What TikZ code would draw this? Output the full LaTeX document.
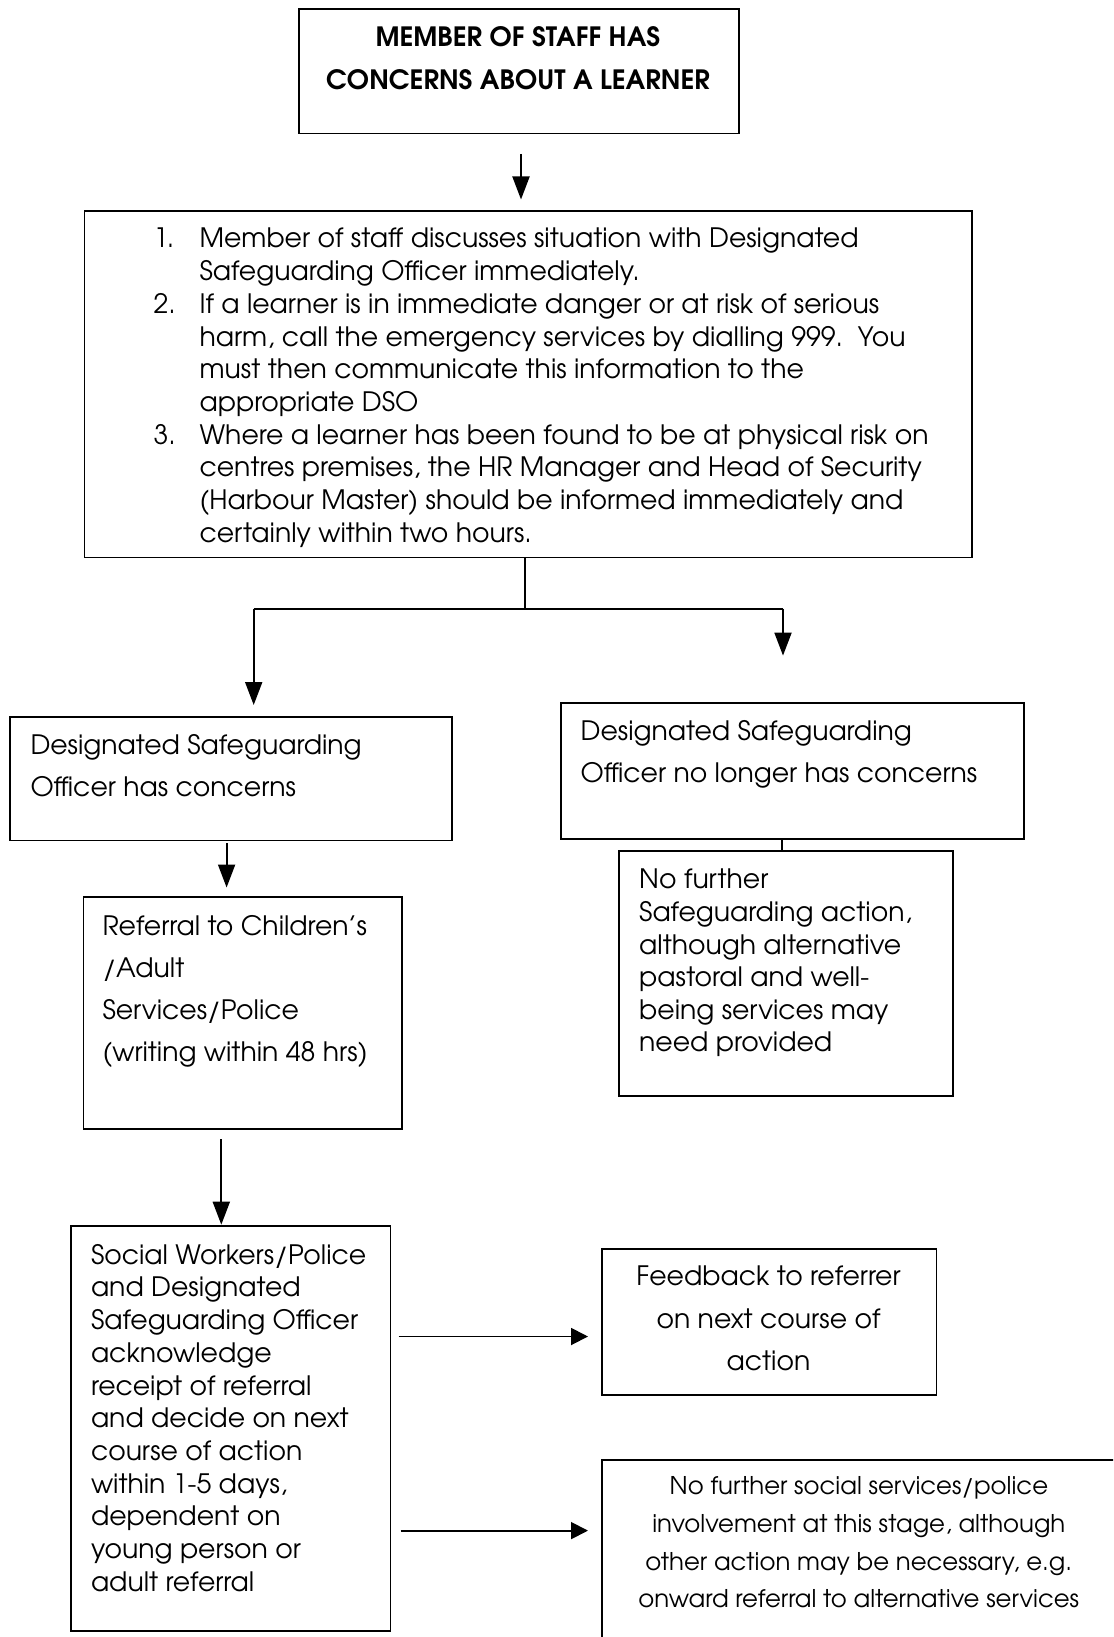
\documentclass[tikz,border=0pt]{standalone}
\usepackage{fontspec}
\setmainfont{texgyreadventor}[Extension=.otf, UprightFont=*-regular, BoldFont=*-bold]
\usetikzlibrary{arrows.meta}
\tikzset{
  box/.style={draw, line width=1.9pt, inner sep=0pt, anchor=north west},
  txt/.style={inner sep=0pt, anchor=north west, align=left},
  arrv/.style={line width=1.9pt, -{Triangle[length=23pt,width=17pt]}},
  arrh/.style={line width=1.9pt, -{Triangle[length=17pt,width=17pt]}},
  ln/.style={line width=1.9pt},
}
\newcommand{\numsp}{\hspace*{45.9pt}}
\newcommand{\numb}[1]{\makebox[45.9pt][l]{#1}}
\begin{document}
\begin{tikzpicture}[x=1pt,y=-1pt]
\useasboundingbox (0,0) rectangle (1113,1637);
\clip (0,0) rectangle (1113,1637);
\fill[white] (0,0) rectangle (1113,1637);

% boxes
\node[box, minimum width=440.6pt, minimum height=124.2pt] (top) at (297.6,8.4) {};
\node[box, minimum width=887.5pt, minimum height=346.5pt] (list) at (83.5,210) {};
\node[box, minimum width=441.6pt, minimum height=123.5pt] (dsoA) at (9.4,716) {};
\node[box, minimum width=463.4pt, minimum height=136.8pt] (dsoB) at (559.6,701.6) {};
\node[box, minimum width=334pt, minimum height=245.3pt] (nf) at (618,850) {};
\node[box, minimum width=318.5pt, minimum height=231.6pt] (ref) at (82.5,896) {};
\node[box, minimum width=319.5pt, minimum height=405.3pt] (soc) at (70,1224.7) {};
\node[box, minimum width=334.1pt, minimum height=146.3pt] (fb) at (601.4,1247.7) {};
\node[box, minimum width=560pt, minimum height=250pt] (nfs) at (601.4,1458.6) {};

% texts
\node[inner sep=0pt, align=center, font=\bfseries\fontsize{26.6}{42.8}\selectfont] (topT) at (518,58.5)
  {MEMBER OF STAFF HAS\\CONCERNS ABOUT A LEARNER};
\node[txt, font=\fontsize{26.7}{32.7}\selectfont] (listT) at (153.5,228)
  {\numb{1.}Member of staff discusses situation with Designated\\
   \numsp Safeguarding Officer immediately.\\
   \numb{2.}If a learner is in immediate danger or at risk of serious\\
   \numsp harm, call the emergency services by dialling 999.\ \ You\\
   \numsp must then communicate this information to the\\
   \numsp appropriate DSO\\
   \numb{3.}Where a learner has been found to be at physical risk on\\
   \numsp centres premises, the HR Manager and Head of Security\\
   \numsp (Harbour Master) should be informed immediately and\\
   \numsp certainly within two hours.};
\node[txt, font=\fontsize{26.7}{41.8}\selectfont] (dsoAT) at (30.3,734.4)
  {Designated Safeguarding\\Officer has concerns};
\node[txt, font=\fontsize{26.7}{42.8}\selectfont] (dsoBT) at (580.5,719.8)
  {Designated Safeguarding\\Officer no longer has concerns};
\node[txt, font=\fontsize{26.7}{32.6}\selectfont] (nfT) at (639,869)
  {No further\\Safeguarding action,\\although alternative\\pastoral and well-\\being services may\\need provided};
\node[txt, font=\fontsize{26.7}{42}\selectfont] (refT) at (102.3,915)
  {Referral to Children’s\\/Adult\\Services/Police\\(writing within 48 hrs)};
\node[txt, font=\fontsize{26.7}{32.7}\selectfont] (socT) at (90.8,1244)
  {Social Workers/Police\\and Designated\\Safeguarding Officer\\acknowledge\\receipt of referral\\and decide on next\\course of action\\within 1-5 days,\\dependent on\\young person or\\adult referral};
\node[inner sep=0pt, anchor=north, align=center, font=\fontsize{26.7}{42.3}\selectfont] (fbT) at (768.5,1266)
  {Feedback to referrer\\on next course of\\action};
\node[inner sep=0pt, anchor=north, align=center, font=\fontsize{24.4}{37.9}\selectfont] (nfsT) at (858.8,1476)
  {No further social services/police\\involvement at this stage, although\\other action may be necessary, e.g.\\onward referral to alternative services};

% connectors
\coordinate (split) at (525,608.7);
\coordinate (bl) at (253.7,608.7);
\coordinate (br) at (783,608.7);
\coordinate (ya) at (0,1336.5);
\coordinate (yb) at (0,1530.6);
\coordinate (xa) at (521,0);
\coordinate (xb) at (782,0);
\coordinate (xc) at (226.6,0);
\coordinate (xd) at (221.3,0);

\draw[arrv, shorten <=19.5pt, shorten >=10.5pt] (top.south -| xa) -- (list.north -| xa);
\draw[ln] (list.south -| split) -- (split);
\draw[ln] (bl) -- (br);
\draw[arrv, shorten >=11pt] (bl) -- (bl |- dsoA.north);
\draw[arrv, shorten >=46pt] (br) -- (br |- dsoB.north);
\draw[ln] (dsoB.south -| xb) -- (nf.north -| xb);
\draw[arrv, shorten <=2pt, shorten >=8.5pt] (dsoA.south -| xc) -- (ref.north -| xc);
\draw[arrv, shorten <=9.5pt] (ref.south -| xd) -- (soc.north -| xd);
\draw[arrh, shorten <=7.3pt, shorten >=13.4pt] (soc.east |- ya) -- (fb.west |- ya);
\draw[arrh, shorten <=9.3pt, shorten >=13.4pt] (soc.east |- yb) -- (nfs.west |- yb);
\end{tikzpicture}
\end{document}
